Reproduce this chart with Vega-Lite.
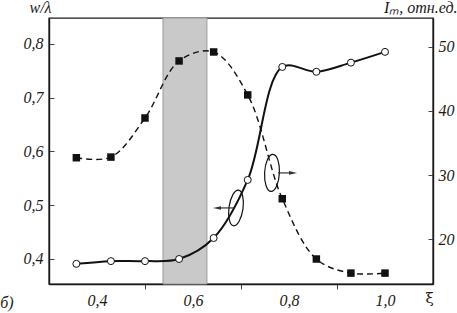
{
  "$schema": "https://vega.github.io/schema/vega-lite/v6.json",
  "width": 384,
  "height": 266,
  "autosize": "none",
  "padding": {"left": 49, "top": 18, "right": 24, "bottom": 29},
  "config": {
    "view": {"stroke": "#1a1a1a", "strokeWidth": 1.4},
    "axis": {
      "labelFont": "Liberation Serif", "labelFontStyle": "italic", "labelFontSize": 16, "labelColor": "#1a1a1a",
      "titleFont": "Liberation Serif", "titleFontStyle": "italic", "titleFontWeight": "normal", "titleFontSize": 16, "titleColor": "#1a1a1a",
      "domainColor": "#1a1a1a", "domainWidth": 1.4, "tickColor": "#444", "tickWidth": 1, "grid": false,
      "labelOverlap": false
    }
  },
  "datasets": {
    "w": [
      {"xi": 0.357, "w": 0.391}, {"xi": 0.429, "w": 0.396}, {"xi": 0.5, "w": 0.396},
      {"xi": 0.571, "w": 0.4}, {"xi": 0.643, "w": 0.439}, {"xi": 0.714, "w": 0.547},
      {"xi": 0.786, "w": 0.757}, {"xi": 0.857, "w": 0.748}, {"xi": 0.929, "w": 0.765},
      {"xi": 1.0, "w": 0.785}
    ],
    "I": [
      {"xi": 0.357, "I": 32.7}, {"xi": 0.429, "I": 32.8}, {"xi": 0.5, "I": 38.9},
      {"xi": 0.571, "I": 47.8}, {"xi": 0.643, "I": 49.2}, {"xi": 0.714, "I": 42.5},
      {"xi": 0.786, "I": 26.3}, {"xi": 0.857, "I": 16.9}, {"xi": 0.929, "I": 14.7},
      {"xi": 1.0, "I": 14.7}
    ],
    "band": [{"x1": 0.5375, "x2": 0.629}],
    "one": [{}]
  },
  "layer": [
    {
      "layer": [
        {
          "data": {"name": "band"},
          "mark": {"type": "rect", "fill": "#c9c9c9", "stroke": "#9a9a9a", "strokeWidth": 1},
          "encoding": {
            "x": {"field": "x1", "type": "quantitative", "title": "ξ",
              "scale": {"domain": [0.3, 1.1], "nice": false, "zero": false},
              "axis": {
                "values": [0.4, 0.5, 0.6, 0.7, 0.8, 0.9, 1.0],
                "tickSize": 5, "labelPadding": 3,
                "tickOpacity": {"condition": {"test": "round(datum.value*10)%2==1", "value": 1}, "value": 0},
                "labelExpr": "round(datum.value*10)%2==0 ? replace(format(datum.value,'.1f'),'.',',') : ''",
                "titleAngle": 0, "titleX": 380, "titleY": 13, "titleAlign": "center", "titleBaseline": "middle",
                "titleFontStyle": "normal", "titleFont": "DejaVu Serif", "titleFontSize": 15
              }},
            "x2": {"field": "x2"}
          }
        },
        {
          "data": {"name": "w"},
          "mark": {"type": "line", "interpolate": "catmull-rom", "color": "#111", "strokeWidth": 2},
          "encoding": {
            "x": {"field": "xi", "type": "quantitative", "title": "ξ"},
            "y": {"field": "w", "type": "quantitative", "title": "w/λ",
              "scale": {"domain": [0.3535, 0.848], "nice": false, "zero": false},
              "axis": {
                "values": [0.4, 0.45, 0.5, 0.55, 0.6, 0.65, 0.7, 0.75, 0.8],
                "tickSize": -5, "labelPadding": 11,
                "labelExpr": "round(datum.value*100)%10==0 ? replace(format(datum.value,'.1f'),'.',',') : ''",
                "titleAngle": 0, "titleX": 2, "titleY": -11, "titleAlign": "right", "titleBaseline": "middle"
              }}
          }
        },
        {
          "data": {"name": "w"},
          "mark": {"type": "point", "shape": "circle", "filled": true, "fill": "white", "stroke": "#111", "strokeWidth": 1, "size": 49, "opacity": 1},
          "encoding": {
            "x": {"field": "xi", "type": "quantitative", "title": "ξ"},
            "y": {"field": "w", "type": "quantitative", "title": "w/λ"}
          }
        },
        {
          "data": {"name": "one"},
          "mark": {"type": "point", "shape": "M0,-1A0.39,1,0,1,1,0,1A0.39,1,0,1,1,0,-1Z", "size": 1296, "filled": false, "stroke": "#111", "strokeWidth": 1.2, "opacity": 1, "angle": 8},
          "encoding": {
            "x": {"datum": 0.6896, "type": "quantitative", "title": "ξ"},
            "y": {"datum": 0.4949, "type": "quantitative", "title": "w/λ"}
          }
        },
        {
          "data": {"name": "one"},
          "mark": {"type": "point", "shape": "M0,-1A0.4,1,0,1,1,0,1A0.4,1,0,1,1,0,-1Z", "size": 1369, "filled": false, "stroke": "#111", "strokeWidth": 1.2, "opacity": 1, "angle": 3},
          "encoding": {
            "x": {"datum": 0.7646, "type": "quantitative", "title": "ξ"},
            "y": {"datum": 0.56, "type": "quantitative", "title": "w/λ"}
          }
        },
        {
          "data": {"name": "one"},
          "mark": {"type": "rule", "color": "#333", "strokeWidth": 1.2},
          "encoding": {
            "x": {"datum": 0.655, "type": "quantitative", "title": "ξ"},
            "x2": {"datum": 0.6854},
            "y": {"datum": 0.4949, "type": "quantitative", "title": "w/λ"}
          }
        },
        {
          "data": {"name": "one"},
          "mark": {"type": "point", "shape": "M-1,0L1,-0.45L1,0.45Z", "size": 64, "filled": true, "color": "#333", "opacity": 1},
          "encoding": {
            "x": {"datum": 0.65, "type": "quantitative", "title": "ξ"},
            "y": {"datum": 0.4949, "type": "quantitative", "title": "w/λ"}
          }
        },
        {
          "data": {"name": "one"},
          "mark": {"type": "rule", "color": "#333", "strokeWidth": 1.2},
          "encoding": {
            "x": {"datum": 0.777, "type": "quantitative", "title": "ξ"},
            "x2": {"datum": 0.803},
            "y": {"datum": 0.56, "type": "quantitative", "title": "w/λ"}
          }
        },
        {
          "data": {"name": "one"},
          "mark": {"type": "point", "shape": "M1,0L-1,-0.45L-1,0.45Z", "size": 64, "filled": true, "color": "#333", "opacity": 1},
          "encoding": {
            "x": {"datum": 0.8083, "type": "quantitative", "title": "ξ"},
            "y": {"datum": 0.56, "type": "quantitative", "title": "w/λ"}
          }
        },
        {
          "data": {"name": "one"},
          "mark": {"type": "text", "text": "б)", "font": "Liberation Serif", "fontStyle": "italic", "fontSize": 16, "color": "#1a1a1a", "align": "center", "baseline": "middle"},
          "encoding": {
            "x": {"datum": 0.2125, "type": "quantitative", "title": "ξ"},
            "y": {"datum": 0.318, "type": "quantitative", "title": "w/λ"}
          }
        }
      ]
    },
    {
      "data": {"name": "I"},
      "layer": [
        {
          "mark": {"type": "line", "interpolate": "catmull-rom", "color": "#111", "strokeWidth": 1.4, "strokeDash": [6, 4]},
          "encoding": {
            "x": {"field": "xi", "type": "quantitative", "title": "ξ"},
            "y": {"field": "I", "type": "quantitative", "title": "Iₘ, отн.ед.",
              "scale": {"domain": [13, 54.5], "nice": false, "zero": false},
              "axis": {
                "orient": "right",
                "values": [20, 30, 40, 50],
                "tickSize": -5, "labelPadding": 10,
                "titleAngle": 0, "titleX": 24, "titleY": -11, "titleAlign": "right", "titleBaseline": "middle"
              }}
          }
        },
        {
          "mark": {"type": "point", "shape": "square", "filled": true, "color": "#111", "size": 56, "opacity": 1},
          "encoding": {
            "x": {"field": "xi", "type": "quantitative", "title": "ξ"},
            "y": {"field": "I", "type": "quantitative", "title": "Iₘ, отн.ед."}
          }
        }
      ]
    }
  ],
  "resolve": {"scale": {"y": "independent"}}
}
